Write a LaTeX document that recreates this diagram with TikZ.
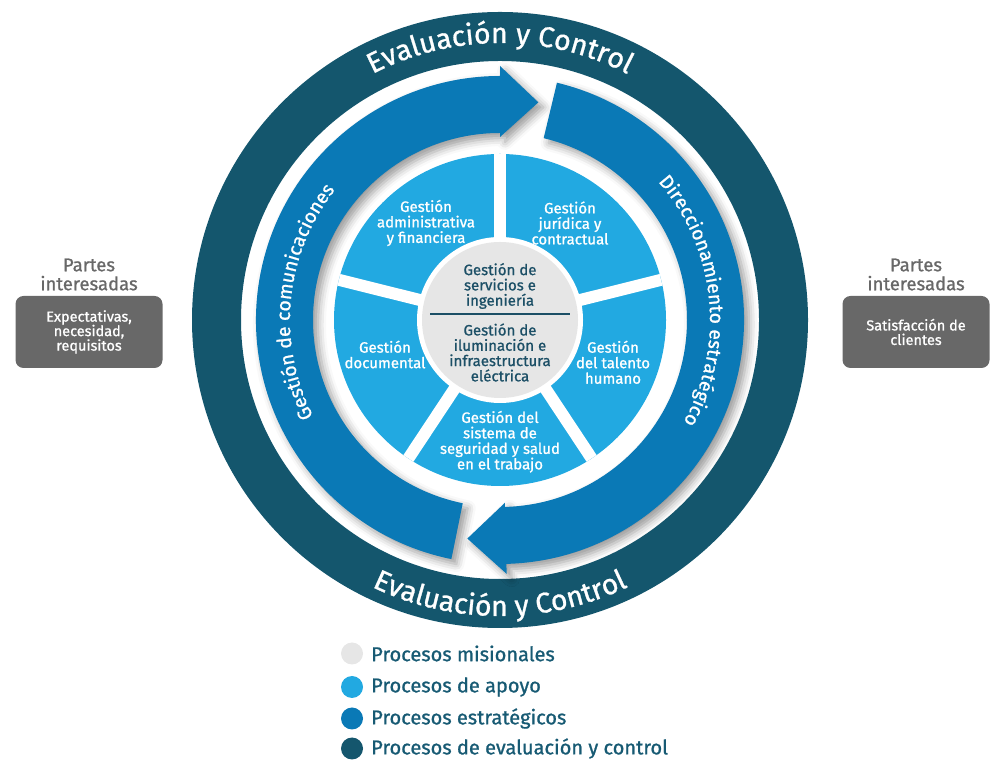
\documentclass[tikz,border=0pt]{standalone}
\usepackage{fontspec}
\setmainfont{Fira Sans}
\newfontfamily\medfont{Fira Sans}[FakeBold=1]
\usetikzlibrary{decorations.text,shadows.blur}

\definecolor{evalc}{HTML}{14566D}
\definecolor{estr}{HTML}{0A79B6}
\definecolor{apoyo}{HTML}{22A9E1}
\definecolor{misional}{HTML}{E6E6E6}
\definecolor{grisc}{HTML}{686868}
\definecolor{grist}{HTML}{686868}
\definecolor{leyt}{HTML}{175A73}
\definecolor{centrot}{HTML}{1C4F66}

\newcommand\arcgrande{\medfont\fontsize{28.5}{30}\selectfont}
\newcommand\arcmedio{\medfont\fontsize{19.3}{20}\selectfont}

\tikzset{
  sombra/.style={blur shadow={shadow xshift=5pt, shadow yshift=-5pt, shadow blur radius=8pt, shadow opacity=40}},
  sector/.style={text=white, align=center, inner sep=0pt, font=\medfont\fontsize{15}{15.5}\selectfont},
  centro/.style={text=centrot, align=center, inner sep=0pt, font=\medfont\fontsize{15}{15.3}\selectfont},
  partes/.style={text=grist, align=center, inner sep=0pt, font=\medfont\fontsize{18.5}{19}\selectfont},
  caja/.style={fill=grisc, rounded corners=8pt, minimum width=147pt, minimum height=72pt,
    text=white, align=center, font=\medfont\fontsize{14.5}{14.5}\selectfont},
  bola/.style={circle, minimum size=22pt, inner sep=0pt},
  leyenda/.style={anchor=west, text=leyt, inner sep=0pt, font=\medfont\fontsize{20}{20}\selectfont}
}

\begin{document}
\begin{tikzpicture}[x=1pt, y=1pt]
  \useasboundingbox (0,0) rectangle (1000,770);

  \begin{scope}[shift={(500,450)}]
    \fill[evalc, even odd rule] (0,0) circle[radius=308] (0,0) circle[radius=259];

    \fill[estr, sombra] (258.5:244) arc[start angle=258.5, end angle=90, radius=244]
      -- (90:254) -- (80:221) -- (90:183) -- (90:187)
      arc[start angle=90, end angle=258.5, radius=187] -- cycle;
    \fill[estr, sombra] (76.5:244) arc[start angle=76.5, end angle=-88.5, radius=244]
      -- (-88.5:254) -- (-98.5:221) -- (-88.5:183) -- (-88.5:187)
      arc[start angle=-88.5, end angle=76.5, radius=187] -- cycle;

    \fill[apoyo] (0,0) circle[radius=166];
    \foreach \a in {90,14,-56.5,-123.5,166}
      \draw[white, line width=12pt] (0,0) -- (\a:166);
    \fill[white] (0,0) circle[radius=83];
    \fill[misional] (0,0) circle[radius=78];

    \path[decorate, decoration={text along path, text align=center, text color=white,
      text={|\arcgrande|Evaluación y Control}}] (125:277) arc[start angle=125, end angle=55, radius=277];
    \path[decorate, decoration={text along path, text align=center, text color=white,
      text={|\arcgrande|Evaluación y Control}}] (235:296) arc[start angle=235, end angle=305, radius=296];
    \path[decorate, decoration={text along path, text align=center, text color=white,
      text={|\arcmedio|Gestión de comunicaciones}}] (235:210) arc[start angle=235, end angle=114, radius=210];
    \path[decorate, decoration={text along path, text align=center, text color=white,
      text={|\arcmedio|Direccionamiento estratégico}}] (60:210) arc[start angle=60, end angle=-48, radius=210];
  \end{scope}

  \node[sector] (adm) at (426,547) {Gestión\\administrativa\\y financiera};
  \node[sector] (jur) at (570,547) {Gestión\\jurídica y\\contractual};
  \node[sector] (doc) at (385,415.5) {Gestión\\documental};
  \node[sector] (tal) at (613,407.7) {Gestión\\del talento\\humano};
  \node[sector] (sst) at (500,328.3) {Gestión del\\sistema de\\seguridad y salud\\en el trabajo};

  \node[centro] (srv) at (500,484) {Gestión de\\servicios e\\ingeniería};
  \node[centro] (ilu) at (500,417.5) {Gestión de\\iluminación e\\infraestructura\\eléctrica};
  \draw[centrot, line width=1.2pt] (430,456) -- (570,456);

  \node[partes] (partesizq) at (89,495.5) {Partes\\interesadas};
  \node[caja] (expect) at (89,438) {Expectativas,\\necesidad,\\requisitos};
  \node[partes] (partesder) at (916,495.5) {Partes\\interesadas};
  \node[caja] (satisf) at (916,438) {Satisfacción de\\clientes};

  \foreach \c/\y/\t [count=\i] in {misional/116.5/Procesos misionales, apoyo/83/Procesos de apoyo,
    estr/51.5/Procesos estratégicos, evalc/21.5/Procesos de evaluación y control} {
    \node[bola, fill=\c] (bola\i) at (352,\y) {};
    \node[leyenda] (ley\i) at (371,\y) {\t};
  }

\end{tikzpicture}
\end{document}
